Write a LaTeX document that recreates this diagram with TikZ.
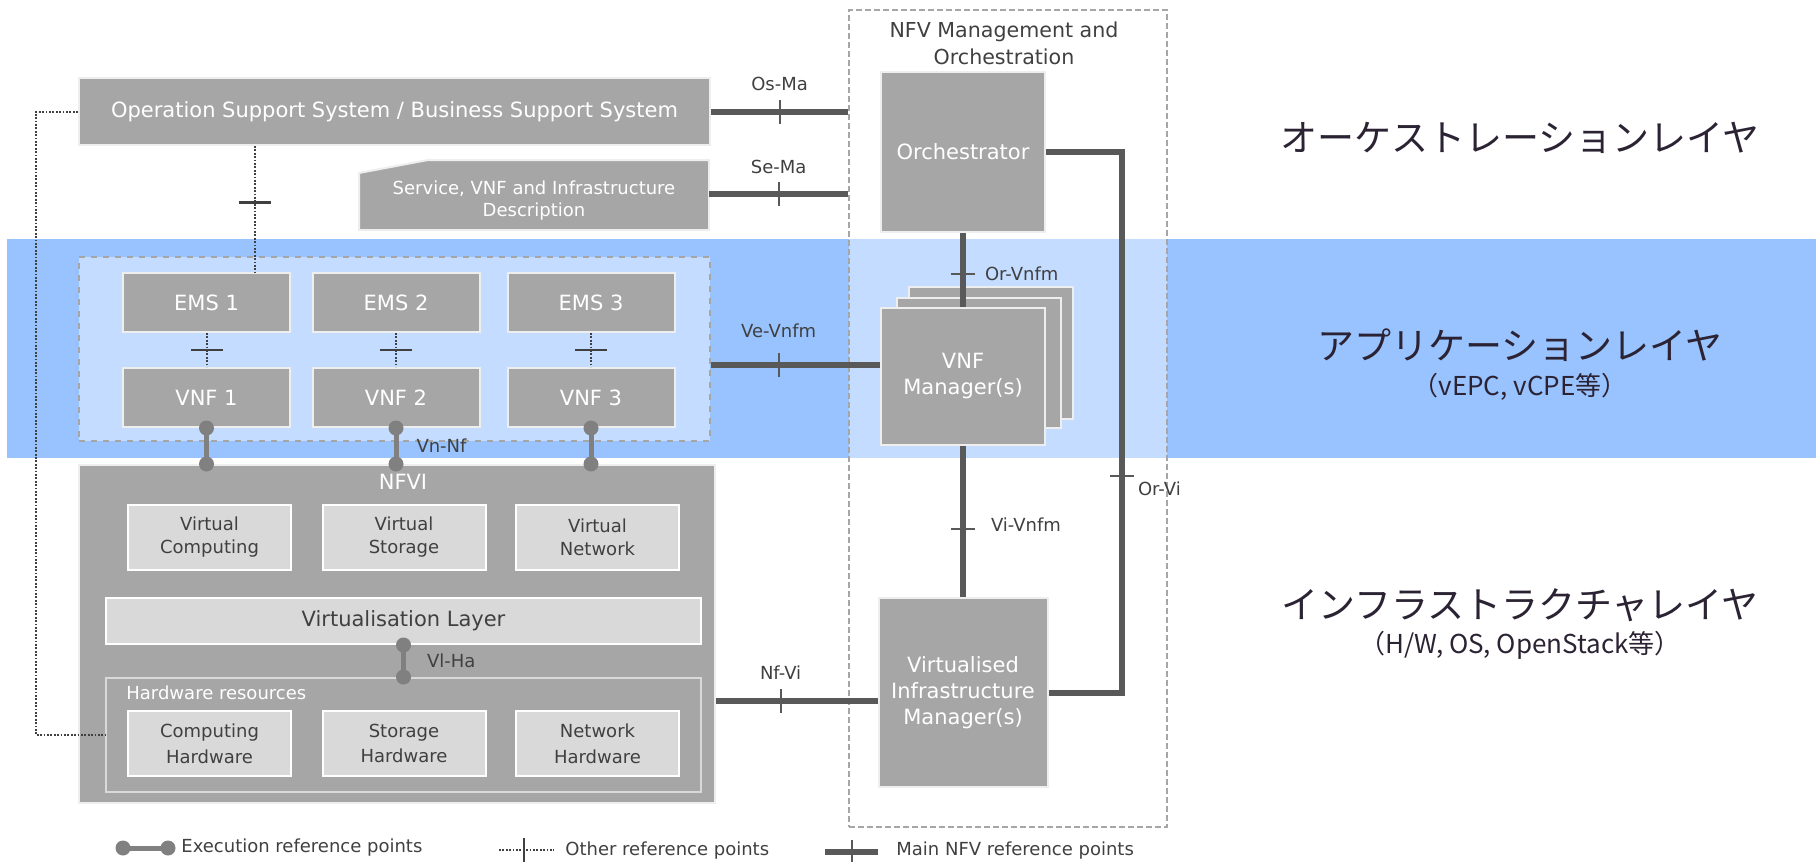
\documentclass[tikz,border=0pt]{standalone}
\usepackage{fontspec}
\setmainfont{DejaVu Sans}
\newfontfamily\jpfont{Noto Sans CJK JP}
\usetikzlibrary{positioning}
\definecolor{boxgray}{HTML}{A6A6A6}
\definecolor{subgray}{HTML}{D9D9D9}
\definecolor{boxedge}{HTML}{EEEEEE}
\definecolor{linegray}{HTML}{595959}
\definecolor{execgray}{HTML}{808080}
\definecolor{labelgray}{HTML}{404040}
\definecolor{dashgray}{HTML}{A6A6A6}
\definecolor{bandblue}{HTML}{99C3FF}
\definecolor{bandlight}{HTML}{C4DCFF}
\definecolor{jptext}{HTML}{2B2333}
\tikzset{
    box/.style={draw=boxedge,line width=1pt,fill=boxgray,text=white,align=center,inner sep=0pt,font=\fontsize{10.5}{13}\selectfont},
    emsbox/.style={minimum width=83.5pt,minimum height=29.5pt},
    subbox/.style={draw=white,line width=1pt,fill=subgray,text=labelgray,align=center,inner sep=0pt,minimum width=81.5pt,minimum height=32.5pt,font=\fontsize{9}{11.5}\selectfont},
    boxtext/.style={text=white,align=center,inner sep=0pt},
    mainref/.style={line width=3pt,draw=linegray},
    otherref/.style={dash pattern=on 0.9pt off 0.8pt,line width=1pt,draw=labelgray},
    execref/.style={line width=2.5pt,draw=execgray},
    refdot/.style={circle,fill=execgray,inner sep=0pt,minimum size=7.5pt},
    reftick/.style={fill=linegray,inner sep=0pt,minimum width=1pt,minimum height=12pt,sloped},
    othertick/.style={fill=labelgray,inner sep=0pt,minimum width=1.4pt,minimum height=16pt,sloped},
    reflabel/.style={text=labelgray,inner sep=0pt,font=\fontsize{9}{11}\selectfont},
    layertext/.style={text=jptext,inner sep=0pt,font=\jpfont\fontsize{18.5}{22}\selectfont},
    notetext/.style={text=jptext,inner sep=0pt,font=\jpfont\fontsize{13}{16}\selectfont}
}

\begin{document}
\begin{tikzpicture}[x=0.5pt,y=-0.5pt]
    \useasboundingbox (0,0) rectangle (1816,862);
    \fill[bandblue] (7,239) rectangle (1816,458);
    \fill[bandlight] (849,239) rectangle (1167,458);
    \node[draw=dashgray,dash pattern=on 3pt off 1.5pt,line width=0.8pt,minimum width=159pt,minimum height=408.5pt] (nfv) at (1008,418.5) {};
    \node[reflabel,align=center,font=\fontsize{10.3}{13.5}\selectfont] (nfvtitle) at (1004,43.5) {NFV Management and\\Orchestration};

    \node[box,minimum width=315.5pt,minimum height=33.5pt] (oss) at (394.5,111.5) {Operation Support System / Business Support System};
    \path[fill=boxgray,draw=boxedge,line width=1pt] (359,173) -- (428,160) -- (709,160) -- (709,230) -- (359,230) -- cycle;
    \node[boxtext,font=\fontsize{9}{11}\selectfont] (svc) at (534,201) {Service, VNF and Infrastructure\\Description};
    \coordinate (sve) at (709,194);

    \node[fill=bandlight,draw=dashgray,dashed,line width=1pt,minimum width=315.5pt,minimum height=92pt] (vnfgrp) at (394.5,349) {};
    \node[box,emsbox] (emsa) at (206.5,302.5) {EMS 1};
    \node[box,emsbox] (emsb) at (396,302.5) {EMS 2};
    \node[box,emsbox] (emsc) at (591,302.5) {EMS 3};
    \node[box,emsbox] (vnfa) [below=17pt of emsa] {VNF 1};
    \node[box,emsbox] (vnfb) [below=17pt of emsb] {VNF 2};
    \node[box,emsbox] (vnfc) [below=17pt of emsc] {VNF 3};

    \node[box,minimum width=318pt,minimum height=169pt] (nfvi) at (397,634) {};
    \node[boxtext,font=\fontsize{10.5}{13}\selectfont] (nfvilbl) at (403,482) {NFVI};
    \node[subbox] (vca) at (209.5,537.5) {Virtual\\Computing};
    \node[subbox] (vsa) at (404,537.5) {Virtual\\Storage};
    \node[subbox] (vna) at (597.5,537.5) {Virtual\\Network};
    \node[subbox,minimum width=297.5pt,minimum height=23pt,font=\fontsize{10.5}{13}\selectfont] (vlayer) at (403.5,621) {Virtualisation Layer};
    \node[box,draw=subgray,minimum width=297.5pt,minimum height=57pt] (hwres) at (403.5,735) {};
    \node[boxtext,anchor=west,font=\fontsize{9}{11}\selectfont] (hwlbl) at (126,693) {Hardware resources};
    \node[subbox,font=\fontsize{9}{12.8}\selectfont] (hwc) at (209.5,743.5) {Computing\\Hardware};
    \node[subbox,font=\fontsize{9}{12.8}\selectfont] (hws) at (404,743.5) {Storage\\Hardware};
    \node[subbox,font=\fontsize{9}{12.8}\selectfont] (hwn) at (597.5,743.5) {Network\\Hardware};

    \node[box,minimum width=82pt,minimum height=80pt] (orch) at (963,152) {Orchestrator};
    \node[box,minimum width=82pt,minimum height=66pt] (vnfmc) at (991,353) {};
    \node[box,minimum width=82pt,minimum height=65pt] (vnfmb) at (979,363) {};
    \node[box,minimum width=82pt,minimum height=68.5pt] (vnfm) at (963,376.5) {VNF\\Manager(s)};
    \node[box,minimum width=84.5pt,minimum height=94.5pt] (vim) at (963,692.5) {Virtualised\\Infrastructure\\Manager(s)};

    \node[layertext] (orlayer) at (1520,138) {オーケストレーションレイヤ};
    \node[layertext] (applayer) at (1520,345) {アプリケーションレイヤ};
    \node[notetext] (appnote) at (1520,387) {（vEPC, vCPE等）};
    \node[layertext] (inflayer) at (1520,605) {インフラストラクチャレイヤ};
    \node[notetext] (infnote) at (1520,645) {（H/W, OS, OpenStack等）};

    \coordinate (vev) at (0,365);
    \coordinate (nfvy) at (0,701);
    \coordinate (orvi) at (1122,0);
    \draw[mainref] (oss.east) -- node[reftick]{} node[reflabel,yshift=14pt]{Os-Ma} (oss.east -| nfv.west);
    \draw[mainref] (sve) -- node[reftick]{} node[reflabel,yshift=13.5pt]{Se-Ma} (sve -| nfv.west);
    \draw[mainref] (vnfgrp.east |- vev) -- node[reftick,pos=0.4]{} node[reflabel,pos=0.4,yshift=17pt]{Ve-Vnfm} (vnfm.west |- vev);
    \draw[mainref] (nfvi.east |- nfvy) -- node[reftick,pos=0.4]{} node[reflabel,pos=0.4,yshift=14pt]{Nf-Vi} (vim.west |- nfvy);
    \draw[mainref] (orch.south) -- node[reftick,pos=0.55]{} node[reflabel,pos=0.55,anchor=west,xshift=9.5pt]{Or-Vnfm} (vnfm.north);
    \draw[mainref] (vnfm.south) -- node[reftick,pos=0.55]{} node[reflabel,pos=0.52,anchor=west,xshift=12.5pt]{Vi-Vnfm} (vim.north);
    \draw[mainref] (orch.east) -- (orch.east -| orvi) -- node[reftick,pos=0.6]{} node[reflabel,pos=0.6,anchor=west,xshift=6.5pt,yshift=-6pt]{Or-Vi} (vim.east -| orvi) -- (vim.east);

    \draw[execref] (vnfa.south) -- node[pos=0,refdot]{} node[pos=1,refdot]{} (vnfa.south |- nfvi.north);
    \draw[execref] (vnfb.south) -- node[pos=0,refdot]{} node[pos=1,refdot]{} node[reflabel,anchor=west,xshift=9pt]{Vn-Nf} (vnfb.south |- nfvi.north);
    \draw[execref] (vnfc.south) -- node[pos=0,refdot]{} node[pos=1,refdot]{} (vnfc.south |- nfvi.north);
    \draw[execref] (vlayer.south) -- node[pos=0,refdot]{} node[pos=1,refdot]{} node[reflabel,anchor=west,xshift=10.5pt]{Vl-Ha} (hwres.north);

    \coordinate (ossx) at (255,0);
    \coordinate (lft) at (36,0);
    \draw[otherref] (oss.south -| ossx) -- node[othertick,pos=0.45]{} (emsa.north -| ossx);
    \draw[otherref] (emsa.south) -- node[othertick]{} (vnfa.north);
    \draw[otherref] (emsb.south) -- node[othertick]{} (vnfb.north);
    \draw[otherref] (emsc.south) -- node[othertick]{} (vnfc.north);
    \draw[otherref] (oss.west) -- (oss.west -| lft) -- (hwres.west -| lft) -- (hwres.west);

    \coordinate (lga) at (123,848);
    \coordinate (lgb) at (168,848);
    \coordinate (lgc) at (499,850);
    \coordinate (lgd) at (554,850);
    \coordinate (lge) at (825,852);
    \coordinate (lgf) at (878,852);
    \draw[execref] (lga) -- node[pos=0,refdot]{} node[pos=1,refdot]{} (lgb);
    \node[reflabel,anchor=west] (lgexec) at (181,848) {Execution reference points};
    \draw[otherref] (lgc) -- node[reftick,pos=0.45,fill=labelgray]{} (lgd);
    \node[reflabel,anchor=west] (lgother) at (565,851) {Other reference points};
    \draw[mainref] (lge) -- node[reftick]{} (lgf);
    \node[reflabel,anchor=west] (lgmain) at (896,851) {Main NFV reference points};
\end{tikzpicture}
\end{document}
